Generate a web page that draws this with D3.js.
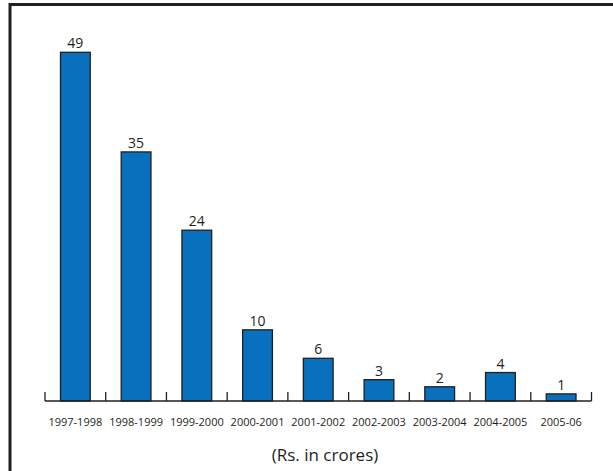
<!DOCTYPE html>
<html><head><meta charset="utf-8">
<script src="https://cdn.jsdelivr.net/npm/d3@7"></script>
<style>body{margin:0;background:#fff}svg{display:block}</style>
</head><body>
<svg id="c" width="613" height="471"></svg>
<script>
const categories = ["1997-1998","1998-1999","1999-2000","2000-2001","2001-2002","2002-2003","2003-2004","2004-2005","2005-06"];
const values = [49,35,24,10,6,3,2,4,1];
const xTitle = "(Rs. in crores)";

const svg = d3.select("#c");
const W = 613, H = 471;
const left = 45, right = 591.5, base = 401;

// frame
svg.append("path").attr("d", `M10,${H} L10,4.5 L${W},4.5`)
  .attr("fill","none").attr("stroke","#231f20").attr("stroke-width",3);

const x = d3.scaleBand().domain(categories).range([left, right]).paddingInner(0.51).paddingOuter(0.255);
const y = d3.scaleLinear().domain([0, 49]).range([base, 52.3]);

// bars
svg.selectAll("rect.bar").data(values).enter().append("rect")
  .attr("x",(d,i)=>x(categories[i]))
  .attr("y",d=>y(d))
  .attr("width",x.bandwidth())
  .attr("height",d=>base-y(d))
  .attr("fill","#0870bd").attr("stroke","#231f20").attr("stroke-width",1.3);

// axis line and ticks
const step = (right-left)/categories.length;
svg.append("line").attr("x1",left).attr("x2",right).attr("y1",base).attr("y2",base)
  .attr("stroke","#231f20").attr("stroke-width",1.5);
const tickPos = d3.range(categories.length+1).map(i=>left+i*step);
svg.selectAll("line.tick").data(tickPos).enter().append("line")
  .attr("x1",d=>d).attr("x2",d=>d).attr("y1",base).attr("y2",base-9)
  .attr("stroke","#231f20").attr("stroke-width",1.3);

// category labels
svg.selectAll("text.cat").data(categories).enter().append("text")
  .attr("x",d=>x(d)+x.bandwidth()/2).attr("y",425.5)
  .attr("text-anchor","middle").attr("font-family","Open Sans, sans-serif")
  .attr("font-size",11).attr("fill","#231f20").text(d=>d);

// value labels
svg.selectAll("text.val").data(values).enter().append("text")
  .attr("x",(d,i)=>x(categories[i])+x.bandwidth()/2).attr("y",d=>y(d)-4)
  .attr("text-anchor","middle").attr("font-family","Open Sans, sans-serif")
  .attr("font-size",14).attr("fill","#231f20").text(d=>d);

// x title
svg.append("text").attr("x",325).attr("y",461)
  .attr("text-anchor","middle").attr("font-family","Open Sans, sans-serif")
  .attr("font-size",17).attr("fill","#231f20").text(xTitle);
</script>
</body></html>
